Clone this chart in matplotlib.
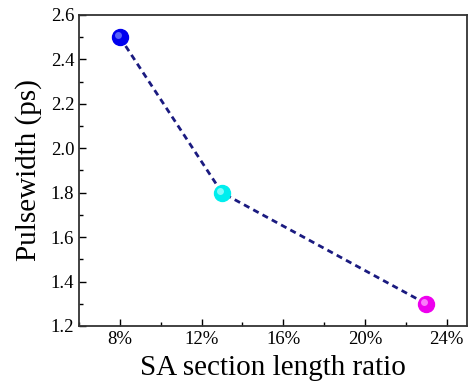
import matplotlib
matplotlib.use("Agg")
import matplotlib.pyplot as plt
import matplotlib.transforms as mtransforms
from matplotlib.ticker import MultipleLocator, FuncFormatter

ratio = [8, 13, 23]
pulsewidth = [2.5, 1.8, 1.3]
colors = ["#0000ee", "#00eeee", "#ee00ee"]
highlight = ["#7f8cff", "#b8ffff", "#ffb0ff"]

plt.rcParams['font.family'] = ['Liberation Serif', 'DejaVu Serif']
fig = plt.figure(figsize=(4.69, 3.85), dpi=100)
ax = fig.add_axes([79/469, 1-326/385, (467-79)/469, (326-15)/385])

ax.plot(ratio, pulsewidth, linestyle=(0, (2.2, 1.6)), color="#1a1a80", lw=2.0, zorder=1)
for x, y, c, h in zip(ratio, pulsewidth, colors, highlight):
    ax.plot([x], [y], 'o', ms=11.5, color=c, mec=c, zorder=3)
    tr = mtransforms.offset_copy(ax.transData, fig=fig, x=-1.5, y=1.5, units='points')
    ax.plot([x], [y], 'o', ms=5, color=h, mec='none', alpha=0.7, transform=tr, zorder=4)

ax.set_xlim(6, 25)
ax.set_ylim(1.2, 2.6)
ax.xaxis.set_major_locator(MultipleLocator(4))
ax.xaxis.set_minor_locator(MultipleLocator(2))
ax.yaxis.set_major_locator(MultipleLocator(0.2))
ax.yaxis.set_minor_locator(MultipleLocator(0.1))
ax.xaxis.set_major_formatter(FuncFormatter(lambda v, p: f"{v:.0f}%"))
ax.yaxis.set_major_formatter(FuncFormatter(lambda v, p: f"{v:.1f}"))
ax.tick_params(which='both', direction='in', top=False, right=False, labelsize=13.5, width=1)
ax.tick_params(which='major', length=5)
ax.tick_params(which='minor', length=3)
for s in ax.spines.values():
    s.set_linewidth(1.3)
    s.set_color("#333333")
ax.set_xlabel("SA section length ratio", fontsize=21, labelpad=5)
ax.set_ylabel("Pulsewidth (ps)", fontsize=21, labelpad=6)
fig.savefig("out.png", dpi=100)
